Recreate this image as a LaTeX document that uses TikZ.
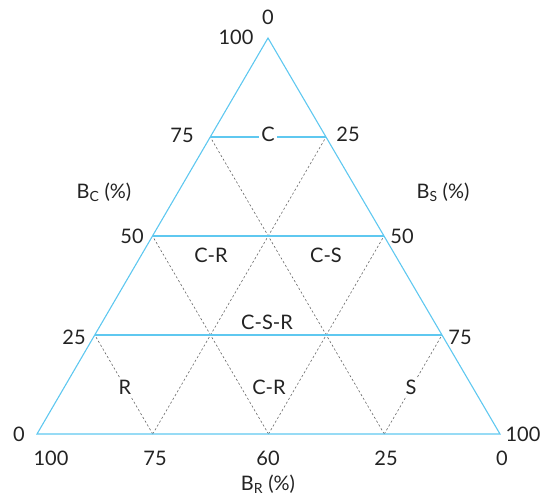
\documentclass[tikz,border=0pt]{standalone}
\usepackage{fontspec}
\setmainfont{Lato}
\usepackage{tikz}
\usetikzlibrary{positioning, calc}
\definecolor{AxisBlue}{RGB}{95,200,240}
\definecolor{LabelGray}{RGB}{35,35,35}

\begin{document}
\begin{tikzpicture}[
  x=1pt, y=-1pt,
  side/.style={draw=AxisBlue, line width=1.1pt, line join=miter},
  level/.style={draw=AxisBlue, line width=1.1pt},
  gridline/.style={draw=black!60, dash pattern=on 2.2pt off 2.2pt, line width=0.6pt},
  tick/.style={font=\fontsize{20}{22}\selectfont, text=LabelGray, inner sep=0pt},
  axislabel/.style={font=\fontsize{20}{22}\selectfont, text=LabelGray, inner sep=0pt},
  zone/.style={font=\fontsize{20}{22}\selectfont, text=LabelGray, fill=white, inner sep=2pt},
]
\useasboundingbox (0,0) rectangle (547,497);

% corners of the triangle
\coordinate (left)  at (37,434);
\coordinate (right) at (500,434);
\coordinate (top)   at (268,38);

% quarter points on the sides
\coordinate (c25) at ($(left)!0.25!(top)$);
\coordinate (c50) at ($(left)!0.50!(top)$);
\coordinate (c75) at ($(left)!0.75!(top)$);
\coordinate (s25) at ($(top)!0.25!(right)$);
\coordinate (s50) at ($(top)!0.50!(right)$);
\coordinate (s75) at ($(top)!0.75!(right)$);
\coordinate (r75) at ($(left)!0.25!(right)$);
\coordinate (r60) at ($(left)!0.50!(right)$);
\coordinate (r25) at ($(left)!0.75!(right)$);

% dashed grid
\draw[gridline] (r25) -- (c75);
\draw[gridline] (r60) -- (c50);
\draw[gridline] (r75) -- (c25);
\draw[gridline] (r75) -- (s25);
\draw[gridline] (r60) -- (s50);
\draw[gridline] (r25) -- (s75);

% horizontal levels
\draw[level] (c25) -- (s75);
\draw[level] (c50) -- (s50);
\draw[level] (c75) -- (s25);

% outline
\draw[side] (left) -- (right) -- (top) -- cycle;

% zone labels
\node[zone] (zoneC)   at (268,134) {C};
\node[zone] (zoneCR)  at (211,255) {C-R};
\node[zone] (zoneCS)  at (326,255) {C-S};
\node[zone] (zoneCSR) at (267,322) {C-S-R};
\node[zone] (zoneR)   at (125,387) {R};
\node[zone] (zoneCR2) at (269,387) {C-R};
\node[zone] (zoneS)   at (411,387) {S};

% ticks on the left side
\node[tick] (tc100) at (236,37)  {100};
\node[tick] (tc75)  at (182,135) {75};
\node[tick] (tc50)  at (132,236) {50};
\node[tick] (tc25)  at (74,337)  {25};
\node[tick] (tc0)   at (19,434)  {0};

% ticks on the right side
\node[tick] (ts0)   at (268,17)  {0};
\node[tick] (ts25)  at (348,134) {25};
\node[tick] (ts50)  at (402,236) {50};
\node[tick] (ts75)  at (460,337) {75};
\node[tick] (ts100) at (523,434) {100};

% ticks on the base
\node[tick] (tr100) at (51,458)  {100};
\node[tick] (tr75)  at (155,458) {75};
\node[tick] (tr60)  at (268,458) {60};
\node[tick] (tr25)  at (386,458) {25};
\node[tick] (tr0)   at (502,458) {0};

% axis names
\node[axislabel] (nameC) at (104,192) {B\textsubscript{C} (\%)};
\node[axislabel] (nameS) at (443,192) {B\textsubscript{S} (\%)};
\node[axislabel] (nameR) at (268,484) {B\textsubscript{R} (\%)};

\end{tikzpicture}
\end{document}
